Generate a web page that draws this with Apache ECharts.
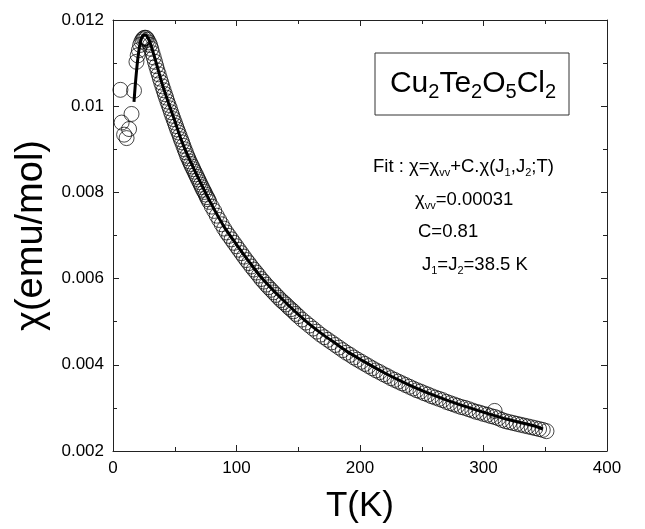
<!DOCTYPE html>
<html>
<head>
<meta charset="utf-8">
<script src="https://cdn.jsdelivr.net/npm/echarts@6/dist/echarts.min.js"></script>
<style>
  html, body { margin: 0; padding: 0; background: #fff; }
  #chart { width: 645px; height: 529px; }
</style>
</head>
<body>
<div id="chart"></div>
<script>
// measured susceptibility (open circles)
var tempK = [6, 7, 9, 11, 13, 15, 17, 19,
  20, 21, 22, 23, 24, 25, 26, 27, 28, 29, 30, 31, 32, 33, 34, 35, 36, 37, 38, 39,
  40, 41, 42, 43, 44, 45, 46, 47, 48, 49, 50, 51, 52, 53, 54, 55, 56, 57, 58, 59,
  60, 61, 62, 63, 64, 65, 66, 67, 68, 69, 70, 71, 72, 73, 74, 75, 76, 77, 78,
  80, 82, 84, 86, 88, 90, 92, 94, 96, 98, 100, 102, 104, 106, 108, 110, 112, 114,
  116, 118, 120, 122, 124, 126, 128, 130, 132, 134, 136, 138, 140, 142, 144, 146,
  148, 150, 153, 156, 159, 162, 165, 168, 171, 174, 177, 180,
  183, 186, 189, 192, 195, 198, 201, 204, 207, 210, 213, 216, 219, 222, 225, 228,
  231, 234, 237, 240, 243, 246, 249, 252, 255, 258, 261, 264, 267, 270, 273, 276,
  279, 282, 285, 288, 291, 294, 297, 300, 303, 306, 309, 309, 312, 315, 318, 321,
  324, 327, 330, 333, 336, 339, 342, 345, 348, 351];
var chiData = [0.01038, 0.00962, 0.00934, 0.00926, 0.00947, 0.00982, 0.01036, 0.01103,
  0.01118, 0.01130, 0.01142, 0.01150, 0.01155, 0.01158, 0.01159, 0.01158, 0.01154, 0.01148,
  0.01142, 0.01133, 0.01123, 0.01113, 0.01103, 0.01093, 0.01083, 0.01074, 0.01064, 0.01055,
  0.01046, 0.01037, 0.01028, 0.01020, 0.01011, 0.01003, 0.00995, 0.00986, 0.00978, 0.00970,
  0.00962, 0.00954, 0.00946, 0.00939, 0.00931, 0.00923, 0.00916, 0.00908, 0.00900, 0.00893,
  0.00885, 0.00879, 0.00872, 0.00866, 0.00860, 0.00854, 0.00848, 0.00842, 0.00836, 0.00830,
  0.00824, 0.00818, 0.00812, 0.00806, 0.00801, 0.00795, 0.00789, 0.00784, 0.00778,
  0.00767, 0.00757, 0.00746, 0.00736, 0.00726, 0.00716, 0.00707, 0.00699, 0.00691, 0.00683,
  0.00675, 0.00667, 0.00659, 0.00651, 0.00643, 0.00636, 0.00628, 0.00621, 0.00614, 0.00607,
  0.00599, 0.00593, 0.00586, 0.00580, 0.00574, 0.00568, 0.00562, 0.00556, 0.00550, 0.00545,
  0.00540, 0.00534, 0.00529, 0.00524, 0.00518, 0.00513,
  0.00505, 0.00498, 0.00491, 0.00484, 0.00477, 0.00470,
  0.00464, 0.00458, 0.00452, 0.00446, 0.00440, 0.00434, 0.00428, 0.00423, 0.00417, 0.00412,
  0.00407, 0.00402, 0.00397, 0.00392, 0.00387, 0.00383, 0.00378, 0.00374, 0.00369, 0.00365,
  0.00361, 0.00357, 0.00353, 0.00349, 0.00345, 0.00341, 0.00338, 0.00334, 0.00331, 0.00327,
  0.00324, 0.00321, 0.00318, 0.00314, 0.00311, 0.00308, 0.00305, 0.00302, 0.00300, 0.00297,
  0.00294, 0.00291, 0.00289, 0.00286, 0.00284, 0.00281, 0.00279, 0.00293, 0.00276, 0.00272,
  0.00269, 0.00267, 0.00265, 0.00263, 0.00261, 0.00259, 0.00257, 0.00255, 0.00253, 0.00251,
  0.00249, 0.00246];

// fit curve (thick line)
var fitT = [17, 18, 19, 20, 21, 22, 23, 24, 25.5, 27, 28.5, 30, 33, 36, 40, 45, 50, 55, 60,
  70, 80, 90, 100, 110, 120, 130, 140, 150, 160, 170, 180, 190, 200, 220, 240, 260, 280,
  300, 320, 340, 348];
var fitChi = [0.0101, 0.01048, 0.0108, 0.01108, 0.0113, 0.01146, 0.01157, 0.01163, 0.01166,
  0.01164, 0.01157, 0.01148, 0.0112, 0.0109, 0.0105, 0.01007, 0.00966, 0.00924, 0.00889,
  0.00828, 0.00771, 0.0072, 0.00679, 0.0064, 0.00603, 0.00572, 0.00544, 0.00517, 0.00492,
  0.0047, 0.0045, 0.0043, 0.00413, 0.00381, 0.00353, 0.00329, 0.00308, 0.0029, 0.00273,
  0.00259, 0.00251];

var xTicks = [0, 400, 100];
var yTicks = [0.002, 0.012, 0.002];

var font = 'Liberation Sans, Arial, Helvetica, sans-serif';

var points = [];
for (var i = 0; i < tempK.length; i++) {
  points.push([tempK[i], chiData[i]]);
}
var fitLine = [];
for (var j = 0; j < fitT.length; j++) {
  fitLine.push([fitT[j], fitChi[j]]);
}

function frameAxis(pos, ticks, showLabel, extra) {
  var ax = {
    type: 'value',
    position: pos,
    min: ticks[0],
    max: ticks[1],
    interval: ticks[2],
    axisLine: { show: true, onZero: false, lineStyle: { color: '#222', width: 1 } },
    axisTick: { show: true, inside: true, length: 6, lineStyle: { color: '#222' } },
    minorTick: { show: true, splitNumber: 2, length: 4, lineStyle: { color: '#222' } },
    splitLine: { show: false },
    axisLabel: { show: showLabel, color: '#000', fontSize: 17, fontFamily: font, margin: 9 }
  };
  for (var k in extra) ax[k] = extra[k];
  return ax;
}

var subText = function (size) {
  return {
    m: { fontSize: size, fontFamily: font, lineHeight: 22, fill: '#000' },
    s: { fontSize: 11, fontFamily: font, lineHeight: 10, verticalAlign: 'bottom', fill: '#000' }
  };
};

var myChart = echarts.init(document.getElementById('chart'));
var option = {
  animation: false,
  backgroundColor: '#fff',
  grid: { left: 113, right: 38, top: 20, bottom: 77 },
  xAxis: [
    frameAxis('bottom', xTicks, true, {
      name: 'T(K)', nameLocation: 'middle', nameGap: 38,
      nameTextStyle: { fontSize: 35, color: '#000', fontFamily: font }
    }),
    frameAxis('top', xTicks, false, {})
  ],
  yAxis: [
    frameAxis('left', yTicks, true, {
      name: 'χ(emu/mol)', nameLocation: 'middle', nameGap: 60,
      nameTextStyle: { fontSize: 38, color: '#000', fontFamily: font }
    }),
    frameAxis('right', yTicks, false, {})
  ],
  series: [
    {
      type: 'scatter',
      data: points,
      symbol: 'circle',
      symbolSize: 15,
      itemStyle: { color: 'rgba(255,255,255,0)', borderColor: '#000', borderWidth: 0.9 },
      z: 2
    },
    {
      type: 'line',
      data: fitLine,
      showSymbol: false,
      smooth: 0.3,
      lineStyle: { color: '#000', width: 3 },
      z: 3
    }
  ],
  graphic: [
    {
      type: 'rect',
      shape: { x: 375, y: 53, width: 194, height: 62 },
      style: { fill: '#fff', stroke: '#333', lineWidth: 1 }
    },
    {
      type: 'text',
      x: 473, y: 84,
      style: {
        text: '{m|Cu}{s|2}{m|Te}{s|2}{m|O}{s|5}{m|Cl}{s|2}',
        align: 'center', verticalAlign: 'middle',
        rich: {
          m: { fontSize: 30, fontFamily: font, lineHeight: 36, fill: '#000' },
          s: { fontSize: 20, fontFamily: font, lineHeight: 13, verticalAlign: 'bottom', fill: '#000' }
        }
      }
    },
    {
      type: 'text',
      x: 373, y: 167,
      style: {
        text: '{m|Fit : χ=χ}{s|vv}{m|+C.χ(J}{s|1}{m|,J}{s|2}{m|;T)}',
        verticalAlign: 'middle',
        rich: subText(18.5)
      }
    },
    {
      type: 'text',
      x: 415, y: 200,
      style: {
        text: '{m|χ}{s|vv}{m|=0.00031}',
        verticalAlign: 'middle',
        rich: subText(18.5)
      }
    },
    {
      type: 'text',
      x: 418, y: 232,
      style: {
        text: 'C=0.81', verticalAlign: 'middle',
        fontSize: 18.5, fontFamily: font, fill: '#000'
      }
    },
    {
      type: 'text',
      x: 422, y: 265,
      style: {
        text: '{m|J}{s|1}{m|=J}{s|2}{m|=38.5 K}',
        verticalAlign: 'middle',
        rich: subText(18.5)
      }
    }
  ]
};
myChart.setOption(option, true);
</script>
</body>
</html>
